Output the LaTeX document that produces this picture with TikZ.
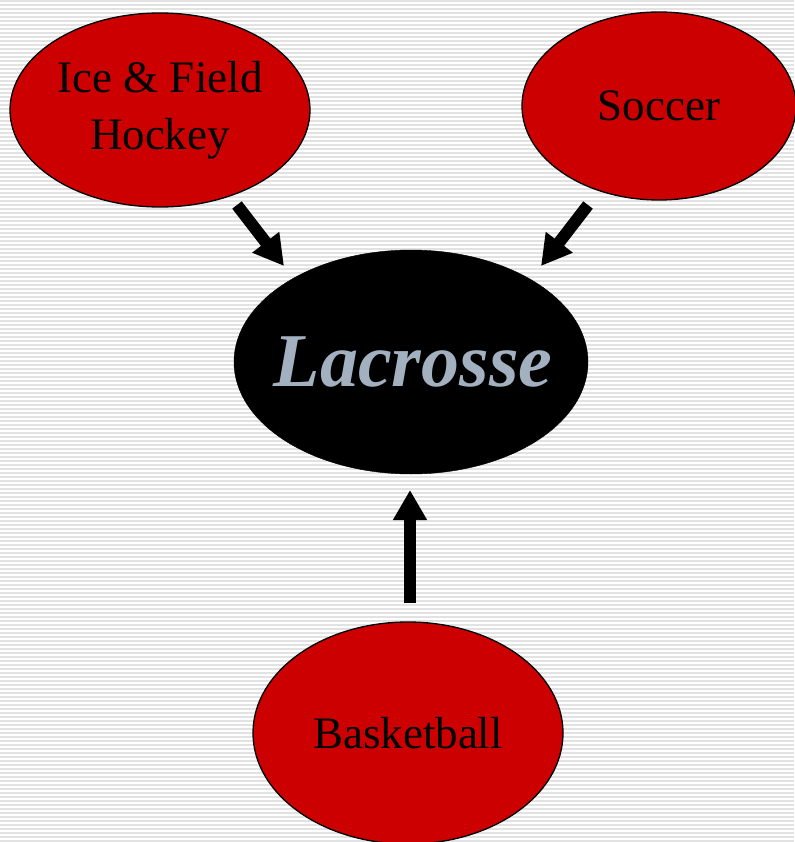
\documentclass[tikz,border=0pt]{standalone}
\usepackage{fontspec}
\setmainfont{Liberation Serif}
\usetikzlibrary{shapes.geometric,arrows.meta}
\definecolor{sportred}{HTML}{CC0000}
\definecolor{stripe}{HTML}{E2E2E2}
\definecolor{lacgray}{HTML}{A3B0C0}
\tikzset{
  sport/.style={ellipse,draw=black,line width=1.3pt,fill=sportred,inner sep=0pt,outer sep=0pt,
    align=center,font=\fontsize{45}{57}\selectfont},
  bigarrow/.style={line width=12pt,-{Triangle[width=32pt,length=30pt]}},
}
\begin{document}
\begin{tikzpicture}[x=1pt,y=-1pt]
\useasboundingbox (0,0) rectangle (794,842);
\fill[white] (0,0) rectangle (794,842);
\foreach \i in {0,...,210}{
  \draw[stripe,line width=1.6pt] (0,{\i*4+1}) -- (794,{\i*4+1});
}
\node[sport,minimum width=300pt,minimum height=194pt] (hockey) at (160,110) {Ice \& Field\\Hockey};
\node[sport,minimum width=274pt,minimum height=188pt] (soccer) at (659,106) {Soccer};
\node[sport,minimum width=310pt,minimum height=222pt] (basket) at (408,733) {Basketball};
\node[ellipse,draw=black,fill=black,minimum width=354pt,minimum height=224pt,inner sep=0pt,outer sep=0pt,
  text=lacgray,font=\fontsize{76}{80}\selectfont\bfseries\itshape] (lax) at (411,362) {\makebox[0pt]{\hspace*{4pt}Lacrosse}};
\coordinate (a1s) at (237,205);
\coordinate (a1e) at (284,266);
\coordinate (a2s) at (588,205);
\coordinate (a2e) at (541,266);
\coordinate (a3s) at (410,603);
\coordinate (a3e) at (410,490);
\draw[bigarrow] (a1s) -- (a1e);
\draw[bigarrow] (a2s) -- (a2e);
\draw[bigarrow] (a3s) -- (a3e);
\end{tikzpicture}
\end{document}
